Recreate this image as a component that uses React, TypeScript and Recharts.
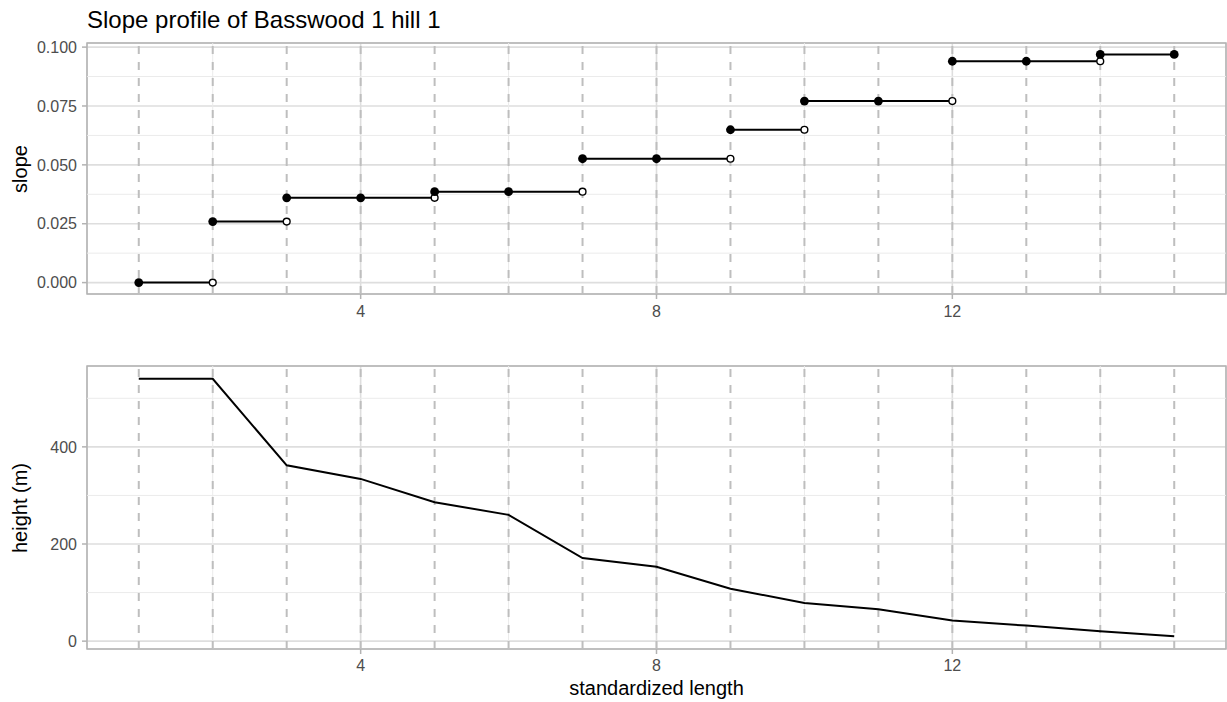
import {
  CartesianGrid,
  ComposedChart,
  Line,
  LineChart,
  ReferenceArea,
  ReferenceLine,
  Scatter,
  XAxis,
  YAxis,
} from 'recharts'

const FONT = '"Liberation Sans", Arial, Helvetica, sans-serif'

// standardized length positions along the hill
const positions = [1, 2, 3, 4, 5, 6, 7, 8, 9, 10, 11, 12, 13, 14, 15]
const slopes = [
  0, 0.0259, 0.036, 0.036, 0.0386, 0.0386, 0.0526, 0.0526, 0.0649, 0.0771, 0.0771,
  0.094, 0.094, 0.0969, 0.0969,
]
const heights = [540, 540, 362, 334, 286, 260, 171, 153, 108, 78.5, 65.5, 42.5, 32, 20.5, 10.3]

const xTicks = [4, 8, 12]
const xMinor = [2, 6, 10, 14]
const slopeTicks = [0, 0.025, 0.05, 0.075, 0.1]
const slopeMinor = [0.0125, 0.0375, 0.0625, 0.0875]
const heightTicks = [0, 200, 400]
const heightMinor = [100, 300, 500]

// ggplot style 5% expansion
function padded(values: number[]): [number, number] {
  const lo = Math.min(...values)
  const hi = Math.max(...values)
  const pad = (hi - lo) * 0.05
  return [lo - pad, hi + pad]
}

const xDomain = padded(positions)
const slopeDomain = padded(slopes)
const heightDomain = padded(heights)

// each step is its own horizontal piece, broken by a null
const stepSegments = positions.slice(0, -1).flatMap((x, i) => [
  { x, y: slopes[i] },
  { x: positions[i + 1], y: slopes[i] },
  { x: positions[i + 1], y: null },
])
const filledPoints = positions.map((x, i) => ({ x, y: slopes[i] }))
const openPoints = positions
  .slice(0, -1)
  .map((_, i) => ({ x: positions[i + 1], y: slopes[i], changed: slopes[i + 1] !== slopes[i] }))
  .filter((p) => p.changed)
const heightData = positions.map((x, i) => ({ x, height: heights[i] }))

const tickStyle = { fontSize: 16, fill: '#4D4D4D', fontFamily: FONT }
const tickLine = { stroke: '#B3B3B3', strokeWidth: 1.5 }

function decor(yMinor: number[], yDomain: [number, number]) {
  return [
    ...xMinor.map((x) => (
      <ReferenceLine key={`mx${x}`} x={x} stroke="#EBEBEB" strokeWidth={1} />
    )),
    ...yMinor.map((y) => (
      <ReferenceLine key={`my${y}`} y={y} stroke="#EBEBEB" strokeWidth={1} />
    )),
    ...positions.map((x) => (
      <ReferenceLine
        key={`v${x}`}
        x={x}
        stroke="#BEBEBE"
        strokeWidth={2}
        strokeDasharray="8 8"
      />
    )),
    <ReferenceArea
      key="border"
      x1={xDomain[0]}
      x2={xDomain[1]}
      y1={yDomain[0]}
      y2={yDomain[1]}
      fill="none"
      stroke="#B3B3B3"
      strokeWidth={1.5}
    />,
  ]
}

export default function App() {
  return (
    <div
      style={{
        position: 'absolute',
        left: 0,
        top: 0,
        width: 1227,
        height: 702,
        background: '#fff',
        fontFamily: FONT,
        color: '#000',
      }}
    >
      <div
        style={{
          position: 'absolute',
          left: 87,
          top: 8,
          fontSize: 24,
          lineHeight: '24px',
          whiteSpace: 'nowrap',
        }}
      >
        Slope profile of Basswood 1 hill 1
      </div>

      <div style={{ position: 'absolute', left: 0, top: 0 }}>
        <ComposedChart
          width={1227}
          height={330}
          margin={{ top: 43, right: 1, bottom: 0, left: 0 }}
          data={filledPoints}
        >
          <CartesianGrid stroke="#DEDEDE" strokeWidth={1.6} />
          {decor(slopeMinor, slopeDomain)}
          <XAxis
            type="number"
            dataKey="x"
            domain={xDomain}
            ticks={xTicks}
            interval={0}
            allowDataOverflow
            height={36}
            axisLine={false}
            tickSize={5}
            tickMargin={7}
            tickLine={tickLine}
            tick={tickStyle}
          />
          <YAxis
            type="number"
            domain={slopeDomain}
            ticks={slopeTicks}
            interval={0}
            allowDataOverflow
            width={87}
            axisLine={false}
            tickSize={5}
            tickMargin={5}
            tickLine={tickLine}
            tick={tickStyle}
            tickFormatter={(v: number) => v.toFixed(3)}
          />
          <Line
            data={stepSegments}
            dataKey="y"
            stroke="#000"
            strokeWidth={2}
            dot={false}
            connectNulls={false}
            isAnimationActive={false}
          />
          <Scatter
            data={openPoints}
            dataKey="y"
            isAnimationActive={false}
            shape={(p: any) => (
              <circle cx={p.cx} cy={p.cy} r={3.4} fill="#fff" stroke="#000" strokeWidth={1.4} />
            )}
          />
          <Scatter
            data={filledPoints}
            dataKey="y"
            isAnimationActive={false}
            shape={(p: any) => <circle cx={p.cx} cy={p.cy} r={4.4} fill="#000" />}
          />
        </ComposedChart>
      </div>

      <div style={{ position: 'absolute', left: 0, top: 330 }}>
        <LineChart
          width={1227}
          height={372}
          margin={{ top: 36, right: 1, bottom: 0, left: 0 }}
          data={heightData}
        >
          <CartesianGrid stroke="#DEDEDE" strokeWidth={1.6} />
          {decor(heightMinor, heightDomain)}
          <XAxis
            type="number"
            dataKey="x"
            domain={xDomain}
            ticks={xTicks}
            interval={0}
            allowDataOverflow
            height={53}
            axisLine={false}
            tickSize={5}
            tickMargin={6}
            tickLine={tickLine}
            tick={tickStyle}
          />
          <YAxis
            type="number"
            domain={heightDomain}
            ticks={heightTicks}
            interval={0}
            allowDataOverflow
            width={87}
            axisLine={false}
            tickSize={5}
            tickMargin={5}
            tickLine={tickLine}
            tick={tickStyle}
          />
          <Line
            dataKey="height"
            stroke="#000"
            strokeWidth={2}
            dot={false}
            isAnimationActive={false}
          />
        </LineChart>
      </div>

      <div
        style={{
          position: 'absolute',
          left: 87,
          width: 1139,
          top: 678,
          fontSize: 20,
          lineHeight: '20px',
          textAlign: 'center',
        }}
      >
        standardized length
      </div>
      <div
        style={{
          position: 'absolute',
          left: -130,
          top: 158.5,
          width: 300,
          height: 20,
          fontSize: 20,
          lineHeight: '20px',
          textAlign: 'center',
          transform: 'rotate(-90deg)',
        }}
      >
        slope
      </div>
      <div
        style={{
          position: 'absolute',
          left: -130,
          top: 497.5,
          width: 300,
          height: 20,
          fontSize: 20,
          lineHeight: '20px',
          textAlign: 'center',
          transform: 'rotate(-90deg)',
        }}
      >
        height (m)
      </div>
    </div>
  )
}
